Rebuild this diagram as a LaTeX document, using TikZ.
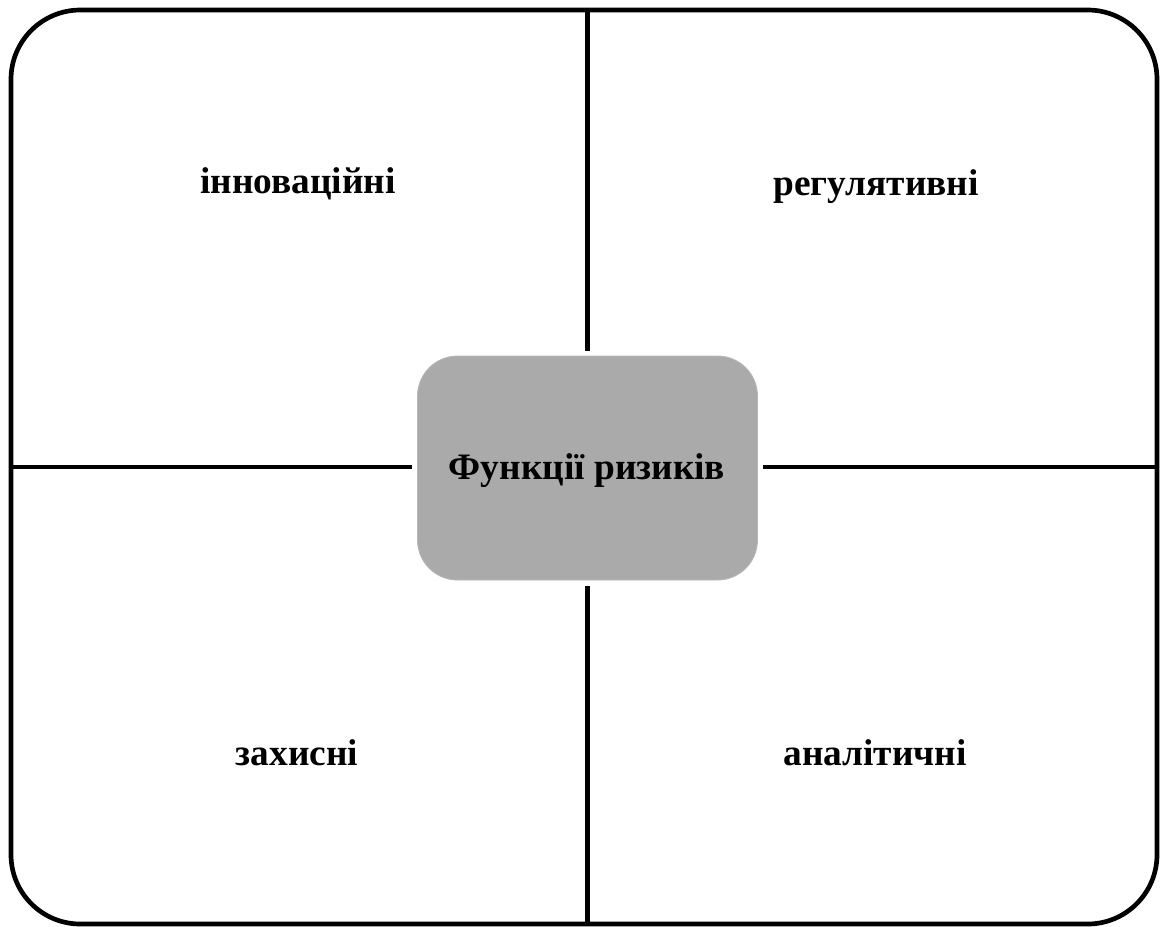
\documentclass[tikz,border=0pt]{standalone}
\usepackage{fontspec}
\setmainfont{Liberation Serif}
\definecolor{boxgray}{HTML}{AAAAAA}
\begin{document}
\begin{tikzpicture}[x=0.75pt,y=-0.75pt,
  lbl/.style={anchor=base,inner sep=0pt,font=\fontsize{28}{34}\selectfont\bfseries},
  divline/.style={line width=3.5pt},
  centerbox/.style={fill=boxgray,draw=boxgray!85!white,line width=0.6pt,rounded corners=30pt,minimum width=255pt,minimum height=168pt,inner sep=0pt}]
\useasboundingbox (0,0) rectangle (1163,926);
\draw[divline,rounded corners=52pt] (11,10) rectangle (1157,924);
\node[centerbox] (c) at (587.5,468) {};
\node[lbl] (ct) at (587,479) {Функції ризиків};
\node[lbl] (a) at (298,193) {інноваційні};
\node[lbl] (b) at (876,195) {регулятивні};
\node[lbl] (d) at (297,765) {захисні};
\node[lbl] (e) at (875,765) {аналітичні};
\coordinate (t1) at (587.5,10);
\coordinate (t2) at (587.5,351);
\coordinate (b1) at (587.5,586);
\coordinate (b2) at (587.5,924);
\coordinate (l1) at (11,467);
\coordinate (l2) at (412,467);
\coordinate (r1) at (763,467);
\coordinate (r2) at (1157,467);
\draw[divline] (t1) -- (t2);
\draw[divline] (b1) -- (b2);
\draw[divline] (l1) -- (l2);
\draw[divline] (r1) -- (r2);
\end{tikzpicture}
\end{document}
